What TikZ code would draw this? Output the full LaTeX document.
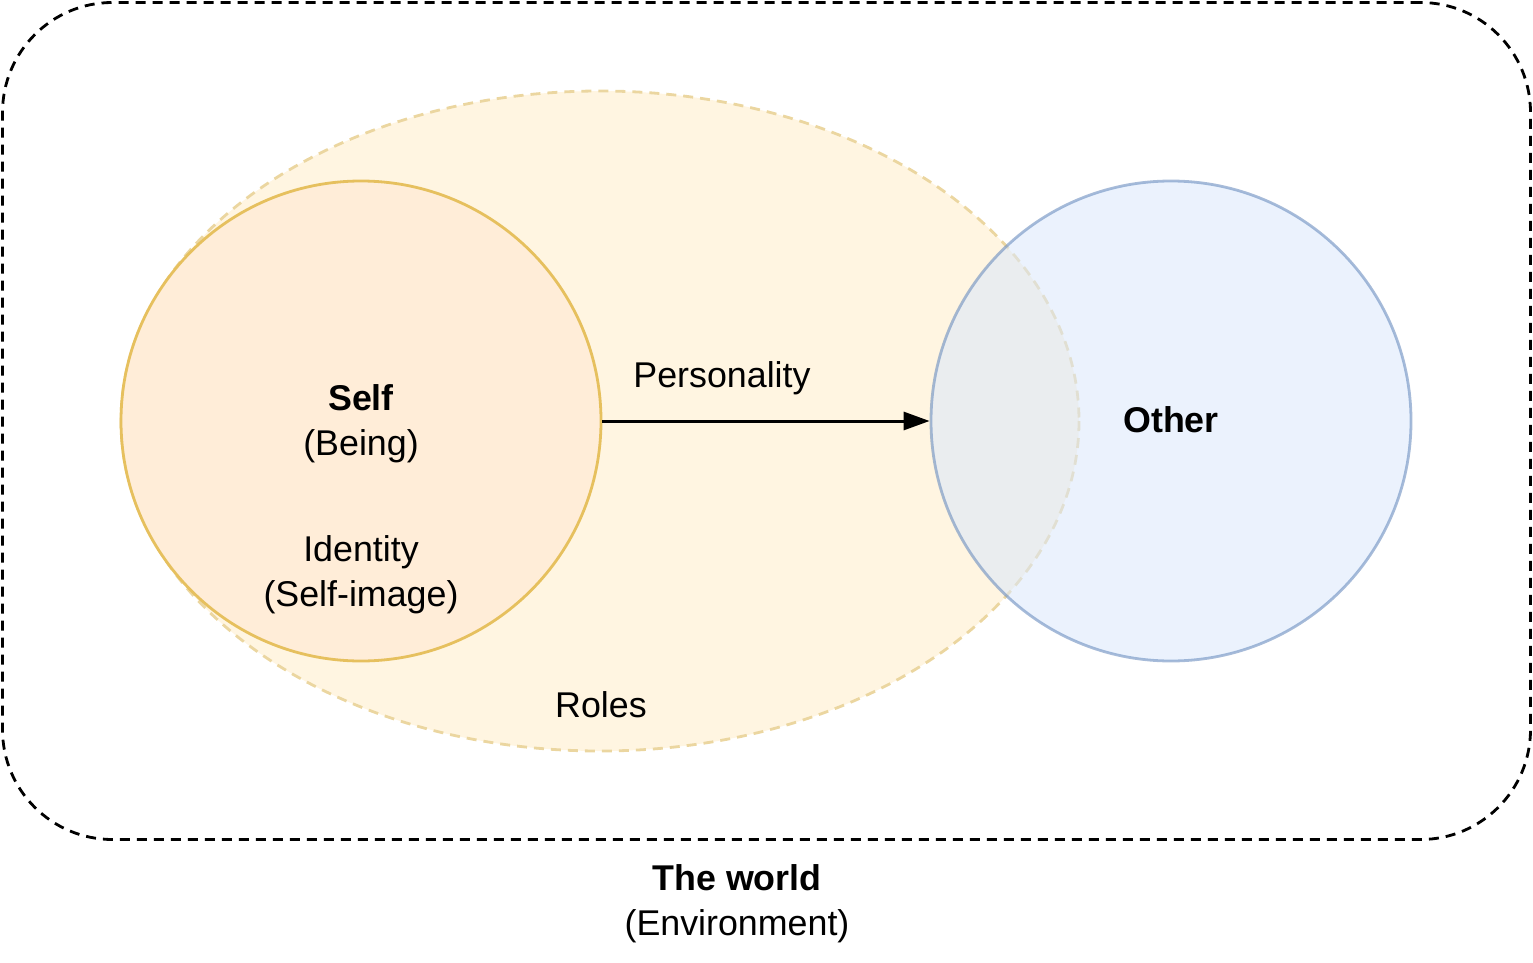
\documentclass[tikz,border=0pt]{standalone}
\usepackage{fontspec}
\setmainfont{Liberation Sans}
\usetikzlibrary{arrows.meta}
\definecolor{rolefill}{HTML}{FFF5E1}
\definecolor{roledraw}{HTML}{EBD6A0}
\definecolor{selffill}{HTML}{FFEDD8}
\definecolor{selfdraw}{HTML}{E6C05E}
\definecolor{otherfill}{HTML}{DAE8FC}
\definecolor{otherdraw}{HTML}{6C8EBF}
\tikzset{
  lbl/.style={font=\fontsize{35.8}{45}\selectfont, align=center, inner sep=0pt},
  dashline/.style={dash pattern=on 10pt off 7pt, line width=2.8pt}
}
\begin{document}
\begin{tikzpicture}[x=1pt,y=-1pt]
\useasboundingbox (0,0) rectangle (1533,963);
% world
\node[draw=black, dashline, rounded corners=110pt, minimum width=1528pt, minimum height=837pt, inner sep=0pt] (world) at (766.5,421) {};
% roles ellipse
\fill[rolefill] (600,421) ellipse [x radius=479, y radius=330];
\draw[roledraw, dashline] (600,421) ellipse [x radius=479, y radius=330];
\coordinate (roles) at (600,421);
% self
\node[circle, fill=selffill, draw=selfdraw, line width=2.8pt, minimum size=480pt, inner sep=0pt] (self) at (361,421) {};
% other
\node[circle, fill=otherfill, fill opacity=0.55, draw=otherdraw, draw opacity=0.6, line width=2.8pt, minimum size=480pt, inner sep=0pt] (other) at (1171,421) {};
% arrow
\draw[line width=3pt, -{Triangle[length=26pt, width=18pt]}] (self.east) -- (other.west);
% labels
\node[lbl] (selflbl) at (361,423.5) {\textbf{Self}\\(Being)};
\node[lbl] (identity) at (361,574.5) {Identity\\(Self-image)};
\node[lbl] (personality) at (722,378) {Personality};
\node[lbl] (otherlbl) at (1171,420) {\textbf{Other}};
\node[lbl] (roleslbl) at (601,705) {Roles};
\node[lbl] (worldlbl) at (737,903.5) {\textbf{The world}\\(Environment)};
\end{tikzpicture}
\end{document}
